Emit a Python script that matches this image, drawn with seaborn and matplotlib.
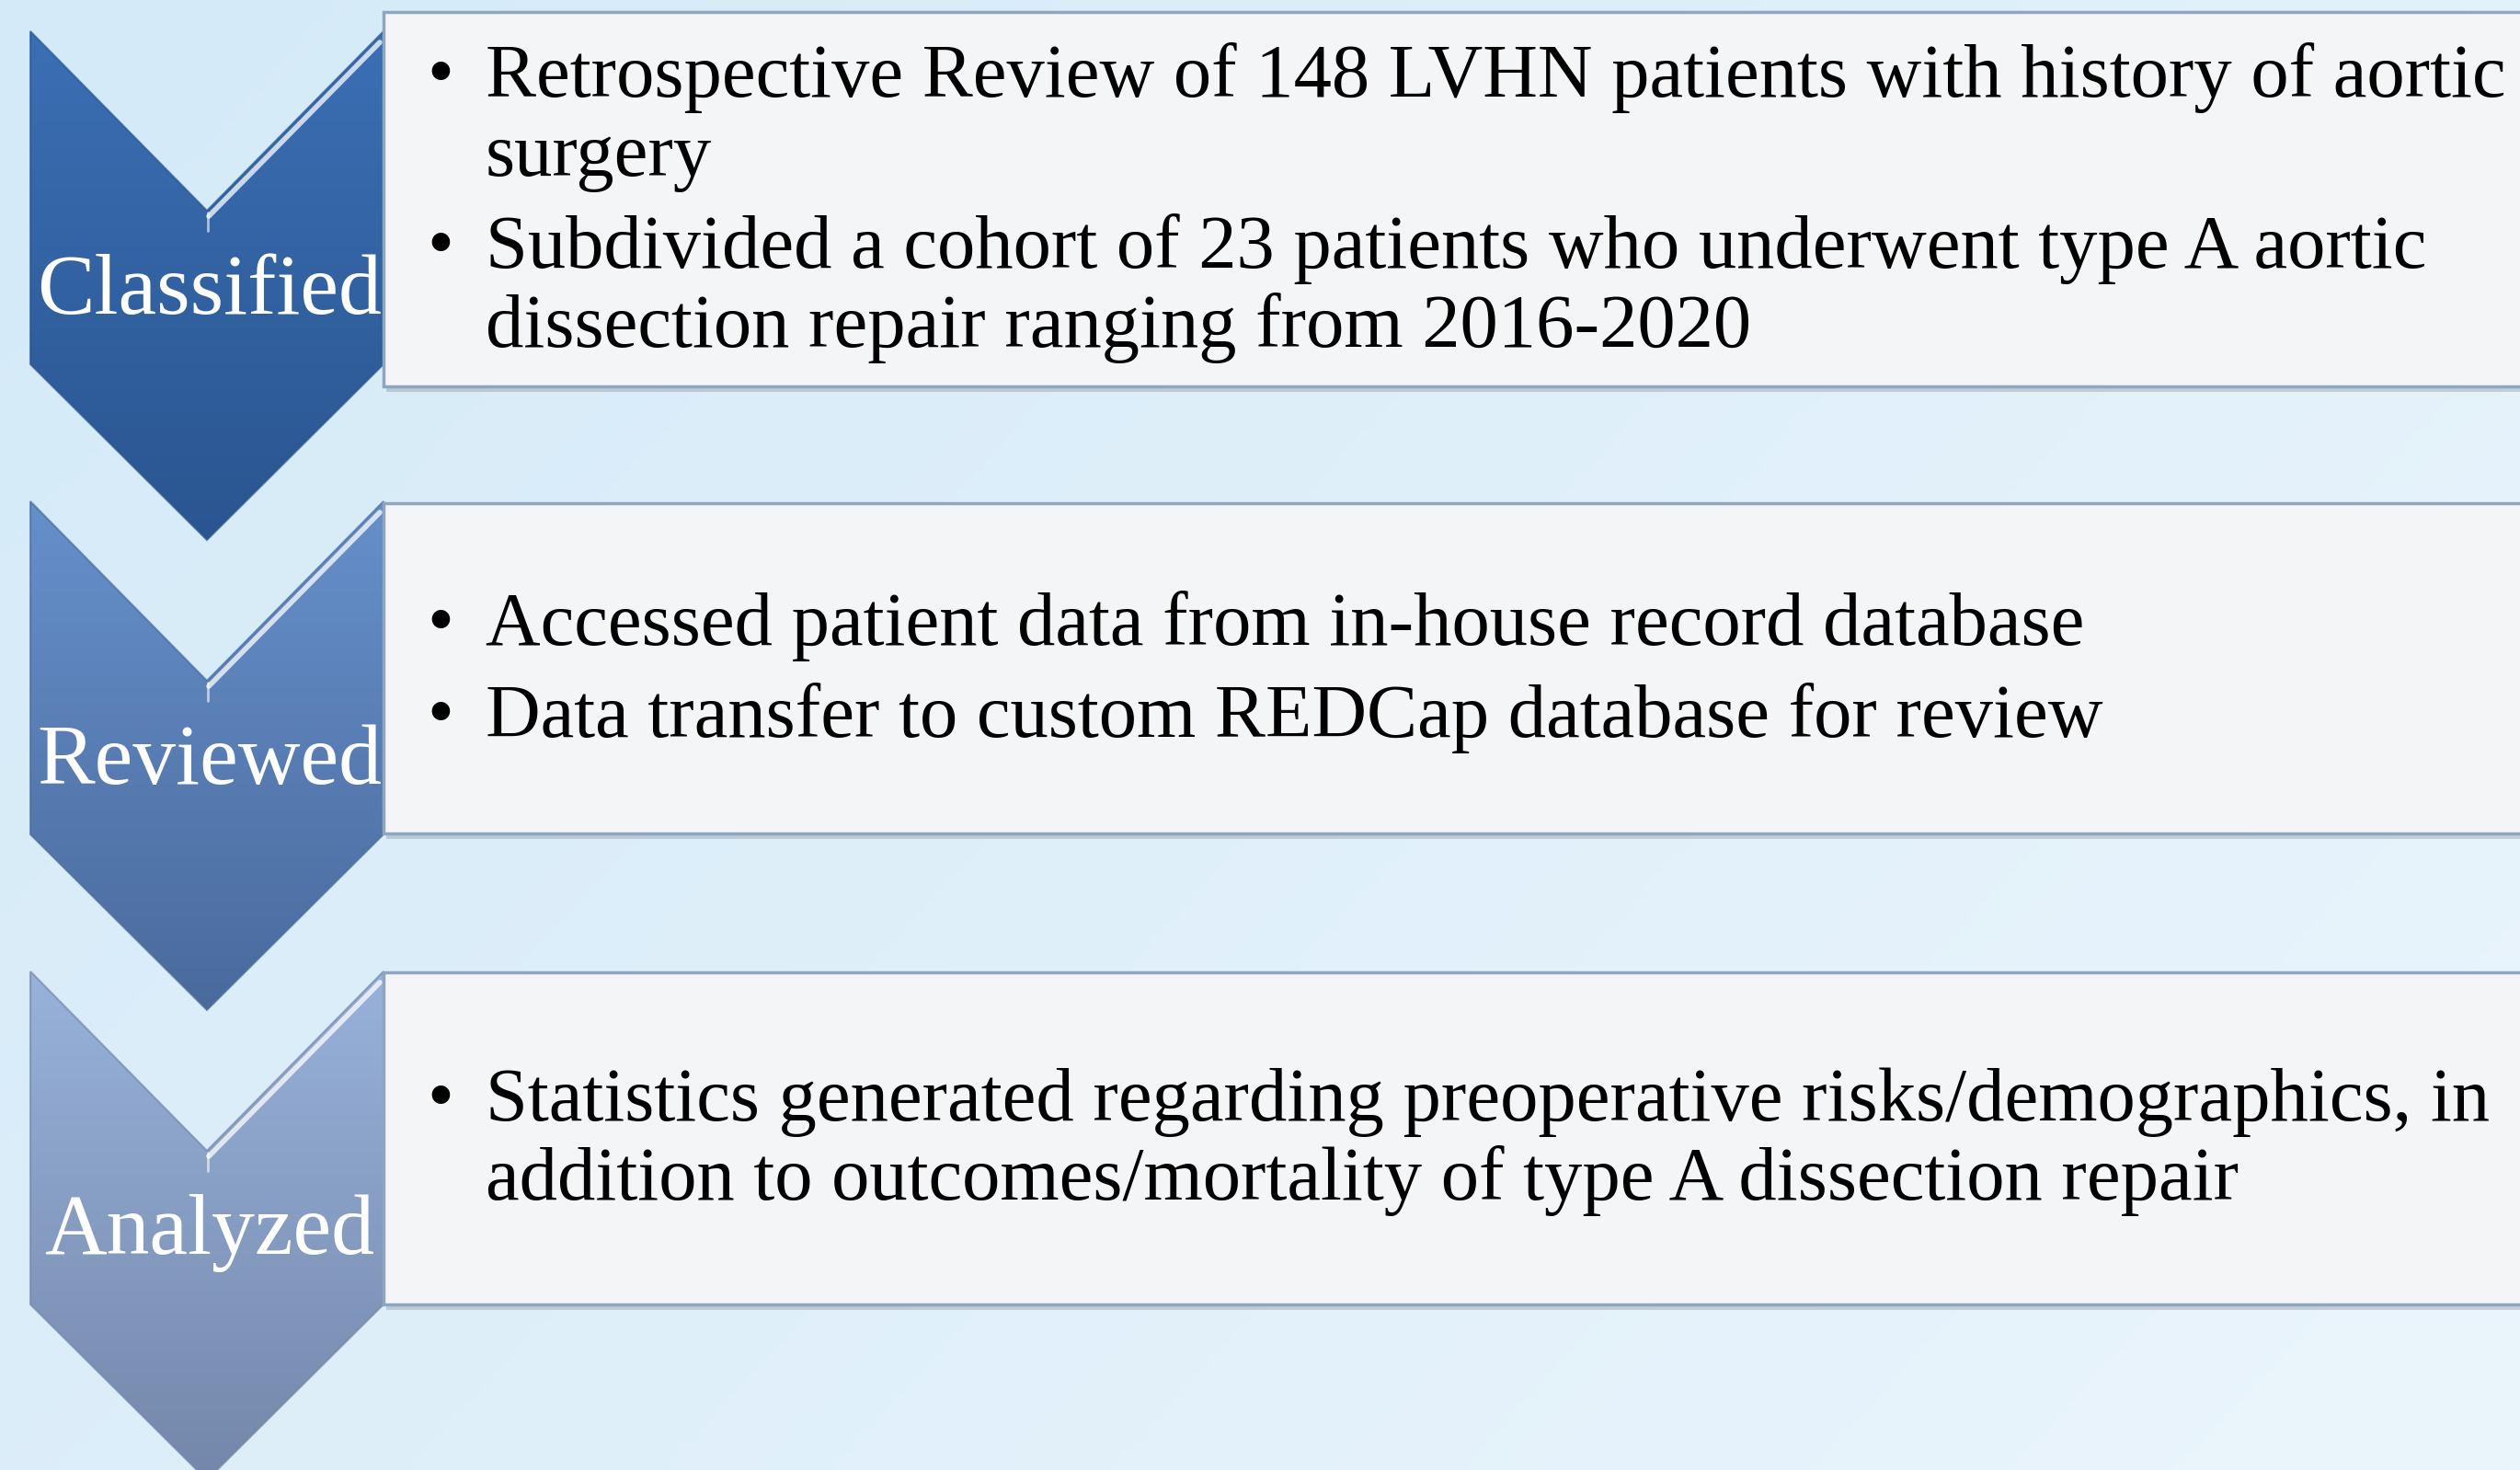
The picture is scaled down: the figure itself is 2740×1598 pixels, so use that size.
import numpy as np
import matplotlib
matplotlib.use("Agg")
import matplotlib.pyplot as plt
from matplotlib.patches import Polygon, Rectangle
from matplotlib.colors import to_rgb
import seaborn as sns

# ---------------- content ----------------
stages = ["Classified", "Reviewed", "Analyzed"]
stage_bullets = [
    [["Retrospective Review of 148 LVHN patients with history of aortic", "surgery"],
     ["Subdivided a cohort of 23 patients who underwent type A aortic",
      "dissection repair ranging from 2016-2020"]],
    [["Accessed patient data from in-house record database"],
     ["Data transfer to custom REDCap database for review"]],
    [["Statistics generated regarding preoperative risks/demographics, in",
      "addition to outcomes/mortality of type A dissection repair"]],
]
chevron_top_colors = ["#3b6fb4", "#6690cb", "#98b2da"]
chevron_bottom_colors = ["#2a5590", "#4a6a9c", "#7487aa"]

# ---------------- style ----------------
sns.set_theme(style="white")
plt.rcParams['font.family'] = ['Liberation Serif', 'DejaVu Serif']

W, H = 2740, 1598
fig = plt.figure(figsize=(W / 100, H / 100), dpi=100)
ax = fig.add_axes([0, 0, 1, 1])
ax.axis('off')

# background gradient
gx = np.linspace(0, 1, 256)
gy = np.linspace(0, 1, 256)
X, Y = np.meshgrid(gx, gy)
t = np.clip(0.65 * X + 0.35 * Y, 0, 1)[..., None]
c0 = np.array([212, 234, 248]) / 255
c1 = np.array([235, 245, 252]) / 255
bg = c0 * (1 - t) + c1 * t
ax.imshow(bg, extent=[0, W, H, 0], aspect='auto', zorder=0)

# layout constants
x0, x1 = 33, 417
xc = (x0 + x1) / 2
step = 511
top0 = 34
notch_d = 195
body_h = 362
tip_d = 191
box_tops = [13, 547, 1057]
box_bottoms = [420, 906, 1418]
first_baselines = [105, 701, 1218]
line_h = 86
bullet_gap = 14
bullet_x = 464
text_x = 528
body_fs = 59.5
label_fs = 67.5

for i, lab in enumerate(stages):
    top = top0 + i * step
    pts = [(x0, top), (xc, top + notch_d), (x1, top), (x1, top + body_h),
           (xc, top + body_h + tip_d), (x0, top + body_h)]
    # gradient fill clipped to chevron
    g = np.linspace(0, 1, 256)[:, None, None]
    ct = np.array(to_rgb(chevron_top_colors[i]))
    cb = np.array(to_rgb(chevron_bottom_colors[i]))
    img = ct * (1 - g) + cb * g
    im = ax.imshow(img, extent=[x0, x1, top + body_h + tip_d, top], aspect='auto', zorder=2)
    clip = Polygon(pts, closed=True, fc='none', ec='none', transform=ax.transData)
    ax.add_patch(clip)
    im.set_clip_path(clip)
    ax.add_patch(Polygon(pts, closed=True, fc='none', ec=cb, lw=1.5, alpha=0.7, zorder=3))
    # bevel highlight on notch right slope
    ax.plot([xc + 2, x1 - 4], [top + notch_d + 6, top + 12], color='white', lw=4,
            alpha=0.75, solid_capstyle='round', zorder=4)
    ax.plot([xc + 1, xc + 1], [top + notch_d + 2, top + notch_d + 22], color='white', lw=2,
            alpha=0.6, zorder=4)

    # text box with shadow
    bt, bb = box_tops[i], box_bottoms[i]
    ax.add_patch(Rectangle((x1 + 3, bt + 6), W, bb - bt, fc='#7f8a96', ec='none',
                           alpha=0.35, zorder=4))
    ax.add_patch(Rectangle((x1, bt), W, bb - bt, fc='#f4f5f6', ec='#8fa5c0', lw=2.5,
                           zorder=5))

    # stage label
    ax.text(xc + 3, top + 307, lab, color='white', fontsize=label_fs, ha='center',
            va='baseline', zorder=6)

    # bullets
    y = first_baselines[i]
    for bullet in stage_bullets[i]:
        ax.text(bullet_x, y, "\u2022", fontsize=body_fs, ha='left', va='baseline',
                color='black', zorder=6)
        for line in bullet:
            ax.text(text_x, y, line, fontsize=body_fs, ha='left', va='baseline',
                    color='black', zorder=6)
            y += line_h
        y += bullet_gap

ax.set_xlim(0, W)
ax.set_ylim(H, 0)
fig.savefig("out.png", dpi=100)
